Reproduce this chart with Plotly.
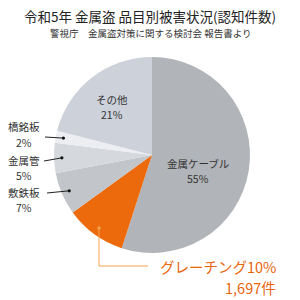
import math
import plotly.graph_objects as go

# data
labels = ["金属ケーブル", "グレーチング", "敷鉄板", "金属管", "橋銘板", "その他"]
values = [55, 10, 7, 5, 2, 21]
colors = ["#b1b4b8", "#ec6a0c", "#c2c5c9", "#d5d8dc", "#eceef1", "#cdd2da"]
title = "令和5年 金属盗 品目別被害状況(認知件数)"
subtitle = "警視庁　金属盗対策に関する検討会 報告書より"
grating_count = "1,697件"

W = H = 300
CX, CY, R = 152, 155, 98
FONT = "Noto Sans CJK JP"
GAP = 15.5


def px(x):
    return x / W


def py(y):
    return 1 - y / H


fig = go.Figure(go.Pie(
    labels=labels, values=values, sort=False, direction="clockwise", rotation=0,
    marker=dict(colors=colors, line=dict(width=0)), textinfo="none",
    hoverinfo="label+percent", showlegend=False,
    domain=dict(x=[px(CX - R), px(CX + R)], y=[py(CY + R), py(CY - R)]),
))

total = sum(values)
mid = {}
acc = 0
for lab, v in zip(labels, values):
    a = (acc + v / 2) / total * 2 * math.pi
    mid[lab] = (CX + 0.92 * R * math.sin(a), CY - 0.92 * R * math.cos(a))
    acc += v

pct = {lab: f"{round(v / total * 100)}%" for lab, v in zip(labels, values)}

ann = []
shapes = []


def text(x, y, s, size=10.5, color="#333333", xanchor="center"):
    ann.append(dict(x=px(x), y=py(y), xref="paper", yref="paper", text=s, showarrow=False,
                    xanchor=xanchor, yanchor="middle", font=dict(family=FONT, size=size, color=color)))


def line(x0, y0, x1, y1, color="#222222"):
    shapes.append(dict(type="line", xref="paper", yref="paper", x0=px(x0), y0=py(y0), x1=px(x1), y1=py(y1),
                       line=dict(color=color, width=1)))


def dot(x, y, color="#111111", r=1.6):
    shapes.append(dict(type="circle", xref="paper", yref="paper", x0=px(x - r), y0=py(y - r),
                       x1=px(x + r), y1=py(y + r), fillcolor=color, line=dict(width=0)))


text(150, 16, title, size=13.5, color="#222222")
text(150, 33, subtitle, size=9.5, color="#333333")

# inside labels
text(112, 99.5, "その他")
text(112, 99.5 + GAP, pct["その他"])
text(198, 163, "金属ケーブル")
text(198, 163 + GAP, pct["金属ケーブル"])

# outside left labels
for lab, ty, lx, ly in [("橋銘板", 126.5, 45, 137), ("金属管", 160, 44, 161), ("敷鉄板", 192, 47, 193)]:
    text(24, ty, lab)
    text(24, ty + GAP, pct[lab])
    dx, dy = mid[lab]
    line(lx, ly, dx, dy)
    dot(dx, dy)

# grating
gx, gy = mid["グレーチング"]
oc = "#f5a24e"
line(gx, gy, gx, 266, oc)
line(gx, 266, 148, 266, oc)
dot(gx, gy, oc, 1.8)
text(278, 266, "グレーチング" + pct["グレーチング"], size=14.5, color="#e8650c", xanchor="right")
text(278, 287, grating_count, size=14.5, color="#e8650c", xanchor="right")

fig.update_layout(width=W, height=H, margin=dict(l=0, r=0, t=0, b=0),
                  paper_bgcolor="white", plot_bgcolor="white",
                  annotations=ann, shapes=shapes)
fig.write_html("out.html")
